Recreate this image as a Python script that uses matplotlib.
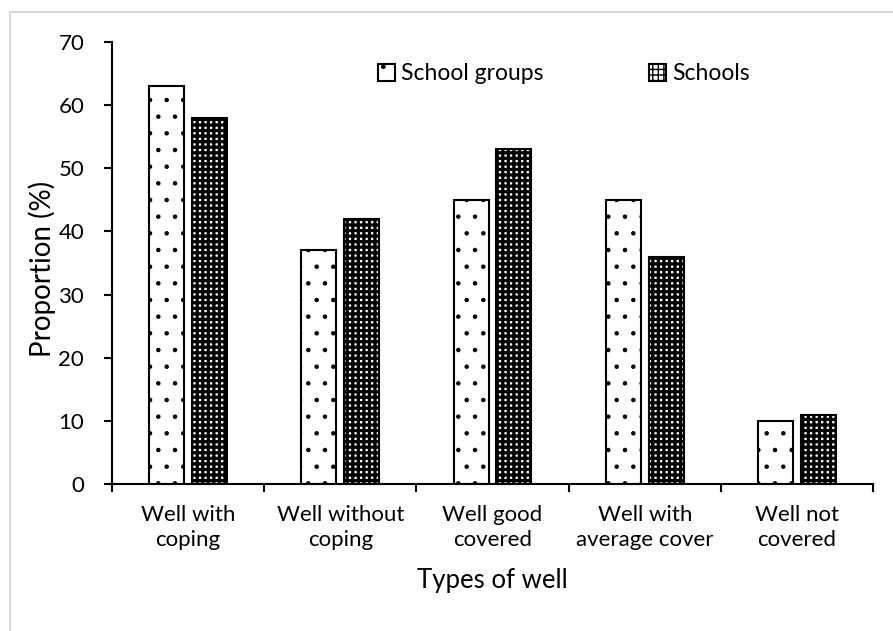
import matplotlib
matplotlib.use("Agg")
import matplotlib.pyplot as plt
import numpy as np
from matplotlib.patches import Rectangle

categories = ["Well with\ncoping", "Well without\ncoping", "Well good\ncovered",
              "Well with\naverage cover", "Well not\ncovered"]
school_groups = [63, 37, 45, 45, 10]
schools = [58, 42, 53, 36, 11]
series_names = ["School groups", "Schools"]
y_ticks = [0, 10, 20, 30, 40, 50, 60, 70]

plt.rcParams['font.family'] = ['Lato', 'DejaVu Sans']
FS = 16
TFS = 18.5

W, H = 893, 631
fig = plt.figure(figsize=(W / 100, H / 100), dpi=100)
ax = fig.add_axes([112/W, 1-484/H, 761/W, 442/H])

x = np.arange(len(categories))
w = 0.23
off = 0.141

with plt.rc_context({'hatch.linewidth': 0.8, 'hatch.color': 'black'}):
    b1 = ax.bar(x - off, school_groups, w, facecolor='white', edgecolor='black',
                linewidth=1.5, hatch='.', label=series_names[0])
with plt.rc_context({'hatch.linewidth': 2.3, 'hatch.color': 'black'}):
    b2 = ax.bar(x + off, schools, w, facecolor='white', edgecolor='black',
                linewidth=1.5, hatch='+++', label=series_names[1])

ax.set_xlim(-0.5, len(categories) - 0.5)
ax.set_ylim(0, 70)
ax.set_yticks(y_ticks)
ax.set_xticks(x)
ax.set_xticklabels(categories, fontsize=FS, linespacing=1.3)
ax.set_xticks(np.arange(len(categories) + 1) - 0.5, minor=True)
ax.tick_params(axis='x', which='major', length=0, pad=15)
ax.tick_params(axis='x', which='minor', length=6, width=1.5, direction='out')
ax.tick_params(axis='y', length=6, width=1.5, direction='out', pad=14, labelsize=FS)

for s in ['top', 'right']:
    ax.spines[s].set_visible(False)
for s in ['left', 'bottom']:
    ax.spines[s].set_linewidth(1.5)

ax.set_ylabel("Proportion (%)", fontsize=20)
ax.yaxis.set_label_coords((56 - 112) / 761, 1 - (269 - 42) / 442)
ax.set_xlabel("Types of well", fontsize=TFS)
ax.xaxis.set_label_coords(0.5, -(568 - 484) / 442)

leg = ax.legend(loc='center left', bbox_to_anchor=(378 / W, 1 - 74 / H),
                bbox_transform=fig.transFigure, ncol=2, frameon=False,
                fontsize=16.5, handlelength=0.75, handleheight=0.75, handletextpad=0.25,
                columnspacing=4.6, borderpad=0, borderaxespad=0)

# light gray figure border (as in the reference)
fig.add_artist(Rectangle((10/W, -0.05), 1.0, 1 - 12/H + 0.05,
                         transform=fig.transFigure, fill=False,
                         edgecolor='#d9d9d9', linewidth=1.5))

fig.savefig("out.png", dpi=100)
